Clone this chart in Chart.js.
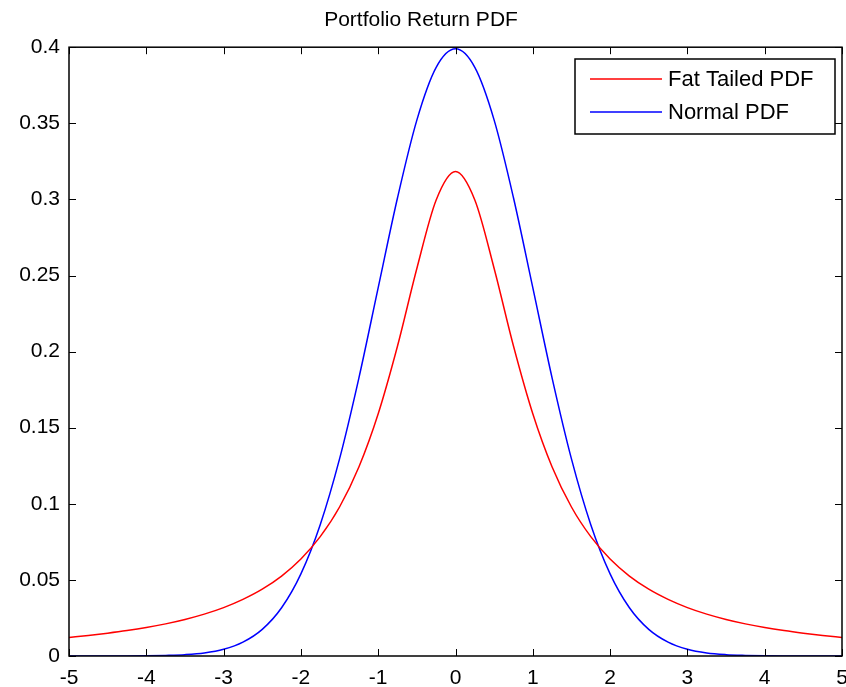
<!DOCTYPE html>
<html>
<head>
<meta charset="utf-8">
<script src="https://cdn.jsdelivr.net/npm/chart.js@4"></script>
<style>
  html, body { margin: 0; padding: 0; background: #fff; }
  #wrap { width: 846px; height: 687px; }
</style>
</head>
<body>
<div id="wrap"><canvas id="chartPdf"></canvas></div>
<script>
// Return values (x) and the two densities
const returns = [-5, -4.75, -4.5, -4.25, -4, -3.75, -3.5, -3.25, -3, -2.75, -2.5, -2.25, -2, -1.75, -1.5, -1.25, -1, -0.75, -0.5, -0.25,
    0, 0.25, 0.5, 0.75, 1, 1.25, 1.5, 1.75, 2, 2.25, 2.5, 2.75, 3, 3.25, 3.5, 3.75, 4, 4.25, 4.5, 4.75, 5];

const fatTailed = [0.0122, 0.0135, 0.0150, 0.0167, 0.0187, 0.0211, 0.0240, 0.0275, 0.0318, 0.0372, 0.0439, 0.0525, 0.0637, 0.0784, 0.0979, 0.1242, 0.1592, 0.2037, 0.2546, 0.2996,
    0.3183, 0.2996, 0.2546, 0.2037, 0.1592, 0.1242, 0.0979, 0.0784, 0.0637, 0.0525, 0.0439, 0.0372, 0.0318, 0.0275, 0.0240, 0.0211, 0.0187, 0.0167, 0.0150, 0.0135, 0.0122];

const normal = [0, 0, 0, 0, 0.0001, 0.0004, 0.0009, 0.0020, 0.0044, 0.0091, 0.0175, 0.0317, 0.0540, 0.0863, 0.1295, 0.1826, 0.2420, 0.3011, 0.3521, 0.3867,
    0.3989, 0.3867, 0.3521, 0.3011, 0.2420, 0.1826, 0.1295, 0.0863, 0.0540, 0.0317, 0.0175, 0.0091, 0.0044, 0.0020, 0.0009, 0.0004, 0.0001, 0, 0, 0, 0];

const seriesNames = ['Fat Tailed PDF', 'Normal PDF'];
const xTicks = [-5, -4, -3, -2, -1, 0, 1, 2, 3, 4, 5];
const yTicks = [0, 0.05, 0.1, 0.15, 0.2, 0.25, 0.3, 0.35, 0.4];

const FONT = 'Liberation Sans, Arial, sans-serif';

const toPoints = (ys) => returns.map((x, i) => ({ x: x, y: ys[i] }));

// MATLAB-style box with inward ticks on all four sides + legend in the corner
const matlabFrame = {
    id: 'matlabFrame',
    afterDatasetsDraw(chart) {
        const { ctx, chartArea: a, scales } = chart;
        const len = 7;
        ctx.save();
        ctx.strokeStyle = '#000';
        ctx.lineWidth = 1.5;
        ctx.strokeRect(a.left, a.top, a.right - a.left, a.bottom - a.top);
        ctx.lineWidth = 1;
        ctx.beginPath();
        xTicks.forEach(v => {
            const px = Math.round(scales.x.getPixelForValue(v)) + 0.5;
            ctx.moveTo(px, a.bottom); ctx.lineTo(px, a.bottom - len);
            ctx.moveTo(px, a.top); ctx.lineTo(px, a.top + len);
        });
        yTicks.forEach(v => {
            const py = Math.round(scales.y.getPixelForValue(v)) + 0.5;
            ctx.moveTo(a.left, py); ctx.lineTo(a.left + len, py);
            ctx.moveTo(a.right, py); ctx.lineTo(a.right - len, py);
        });
        ctx.stroke();

        // legend
        const bx = 575, by = 59, bw = 260, bh = 75;
        ctx.fillStyle = '#fff';
        ctx.fillRect(bx, by, bw, bh);
        ctx.lineWidth = 1.5;
        ctx.strokeStyle = '#000';
        ctx.strokeRect(bx, by, bw, bh);
        ctx.font = '22px ' + FONT;
        ctx.textBaseline = 'middle';
        chart.data.datasets.forEach((ds, i) => {
            const y = by + 20 + i * 33;
            ctx.strokeStyle = ds.borderColor;
            ctx.lineWidth = 1.5;
            ctx.beginPath();
            ctx.moveTo(bx + 15, y); ctx.lineTo(bx + 87, y);
            ctx.stroke();
            ctx.fillStyle = '#000';
            ctx.fillText(ds.label, bx + 93, y + 1);
        });
        ctx.restore();
    }
};

new Chart(document.getElementById('chartPdf'), {
    type: 'scatter',
    data: {
        datasets: [{
            label: seriesNames[0],
            data: toPoints(fatTailed),
            borderColor: '#ff0000',
            borderWidth: 1.5,
            pointRadius: 0,
            showLine: true,
            cubicInterpolationMode: 'monotone'
        }, {
            label: seriesNames[1],
            data: toPoints(normal),
            borderColor: '#0000ff',
            borderWidth: 1.5,
            pointRadius: 0,
            showLine: true,
            cubicInterpolationMode: 'monotone'
        }]
    },
    options: {
        responsive: true,
        maintainAspectRatio: false,
        animation: false,
        layout: { padding: { left: 0, right: 4, top: 0, bottom: 0 } },
        plugins: {
            legend: { display: false },
            tooltip: { enabled: false },
            title: {
                display: true,
                text: 'Portfolio Return PDF',
                color: '#000',
                font: { family: FONT, size: 21, weight: 'normal' },
                padding: { top: 8, bottom: 14 }
            }
        },
        scales: {
            x: {
                type: 'linear',
                min: -5,
                max: 5,
                border: { display: false },
                grid: { display: false, drawTicks: false },
                afterFit: (s) => { s.height = 31; s.paddingLeft = 0; s.paddingRight = 0; },
                afterBuildTicks: (s) => { s.ticks = xTicks.map(v => ({ value: v })); },
                ticks: {
                    color: '#000',
                    padding: 10,
                    maxRotation: 0,
                    font: { family: FONT, size: 21 }
                }
            },
            y: {
                min: 0,
                max: 0.4,
                border: { display: false },
                grid: { display: false, drawTicks: false },
                afterFit: (s) => { s.width = 69; s.paddingTop = 0; s.paddingBottom = 0; },
                afterBuildTicks: (s) => { s.ticks = yTicks.map(v => ({ value: v })); },
                ticks: {
                    color: '#000',
                    padding: 9,
                    font: { family: FONT, size: 21 },
                    callback: (v) => String(v)
                }
            }
        }
    },
    plugins: [matlabFrame]
});
</script>
</body>
</html>
